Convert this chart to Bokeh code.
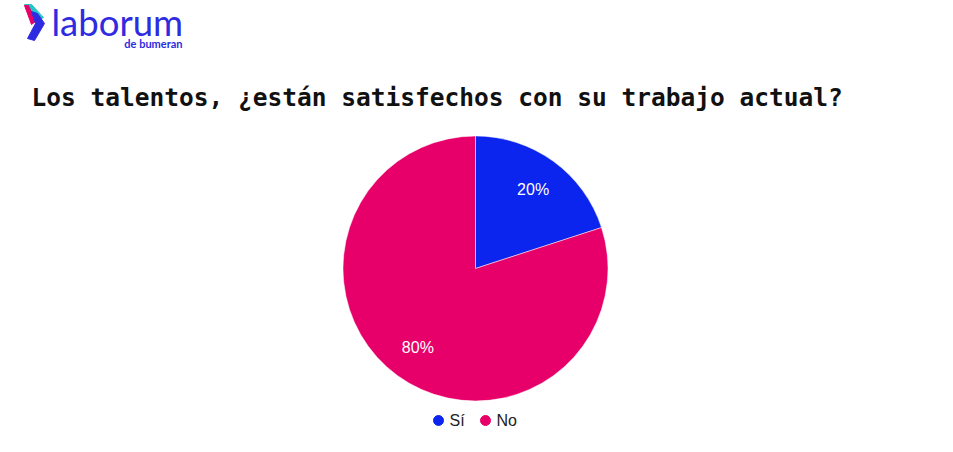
import numpy as np
from bokeh.plotting import figure
from bokeh.models import Range1d, ColumnDataSource
from bokeh.core.properties import value
from bokeh.embed import file_html
from bokeh.resources import INLINE

# ---- data ----
categories = ["Sí", "No"]
shares = [20, 80]
colors = ["#0B24EE", "#E8006A"]
title_text = "Los talentos, ¿están satisfechos con su trabajo actual?"

W, H = 945, 444
p = figure(width=W, height=H, output_backend="svg", toolbar_location=None,
           x_range=Range1d(0, W), y_range=Range1d(0, H), min_border=0)
p.axis.visible = False
p.grid.visible = False
p.outline_line_color = None
p.background_fill_color = "white"
p.border_fill_color = "white"

def Y(page_y):
    return H - page_y

def X(page_x):
    return page_x

# ---- logo ----
p.patch([X(24), X(31), X(43), X(37)], [Y(4), Y(4), Y(17), Y(20)], color="#22C6C9")
p.patch([X(24), X(28), X(35), X(31)], [Y(5), Y(5), Y(21), Y(24)], color="#E8006A")
p.patch([X(31), X(37), X(44), X(34), X(27), X(35)],
        [Y(11), Y(13), Y(23), Y(40), Y(38), Y(23)], color="#2E2BE0")
p.text(x=[X(51)], y=[Y(21)], text=["laborum"], text_font=value("Lato"),
       text_font_size="36.5px", text_color="#2E2BE0", text_baseline="middle")
p.text(x=[X(182)], y=[Y(43)], text=["de bumeran"], text_font=value("Lato"),
       text_font_style="bold", text_font_size="11px", text_color="#2E2BE0",
       text_baseline="middle", text_align="right")

# ---- title ----
p.text(x=[X(31)], y=[Y(97)], text=[title_text], text_font=value("DejaVu Sans Mono"),
       text_font_style="bold", text_font_size="24.5px", text_color="#111111",
       text_baseline="middle")

# ---- pie ----
cx, cy, R = X(475), Y(268), 132.5
vals = np.array(shares, dtype=float)
fr = vals / vals.sum()
cum = np.concatenate([[0], np.cumsum(fr)])
# clockwise from top
end_a = np.pi / 2 - cum[:-1] * 2 * np.pi
start_a = np.pi / 2 - cum[1:] * 2 * np.pi
mid = (start_a + end_a) / 2
src = ColumnDataSource(dict(x=[cx] * len(vals), y=[cy] * len(vals), s=start_a, e=end_a,
                            c=colors, cat=categories,
                            lx=cx + 0.74 * R * np.cos(mid), ly=cy + 0.74 * R * np.sin(mid),
                            lab=[f"{v:.0f}%" for v in fr * 100]))
p.wedge(x="x", y="y", radius=R, start_angle="s", end_angle="e", fill_color="c",
        line_color="white", line_width=0.5, source=src)
p.text(x="lx", y="ly", text="lab", source=src, text_color="white",
       text_font=value("Liberation Sans"), text_font_size="16px", text_align="center",
       text_baseline="middle")

# ---- legend ----
lg_x = [X(438), X(485)]
lsrc = ColumnDataSource(dict(x=lg_x, y=[Y(420)] * 2, tx=[v + 11 for v in lg_x], c=colors, cat=categories))
p.scatter(x="x", y="y", size=10, marker="circle", fill_color="c", line_color="c", source=lsrc)
p.text(x="tx", y="y", text="cat", source=lsrc, text_color="#222222",
       text_font=value("Liberation Sans"), text_font_size="16px", text_baseline="middle")

open("out.html", "w").write(file_html(p, INLINE))
